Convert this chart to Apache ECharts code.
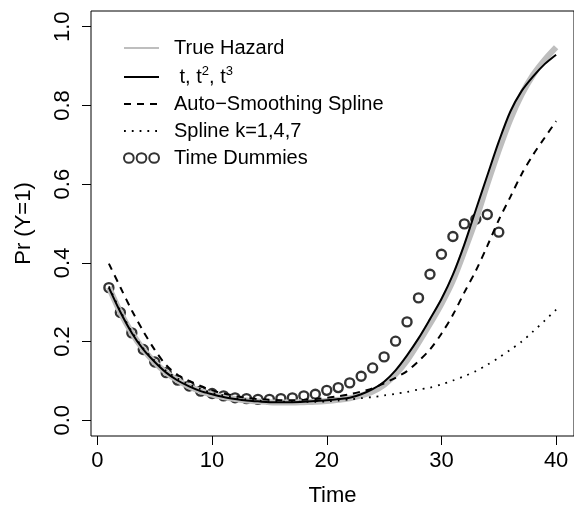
<!DOCTYPE html>
<html>
<head>
<meta charset="utf-8">
<script src="https://cdn.jsdelivr.net/npm/echarts@6/dist/echarts.min.js"></script>
<style>
    html, body { margin: 0; padding: 0; background: #fff; }
    #chart { width: 574px; height: 512px; }
</style>
</head>
<body>
<div id="chart"></div>
<script>
    // time points and curves
    const timePoints = [1, 2, 3, 4, 5, 6, 7, 8, 9, 10, 11, 12, 13, 14, 15, 16, 17, 18, 19, 20,
        21, 22, 23, 24, 25, 26, 27, 28, 29, 30, 31, 32, 33, 34, 35, 36, 37, 38, 39, 40];
    const dummyTimes = [1, 2, 3, 4, 5, 6, 7, 8, 9, 10, 11, 12, 13, 14, 15, 16, 17, 18, 19, 20,
        21, 22, 23, 24, 25, 26, 27, 28, 29, 30, 31, 32, 33, 34, 35];

    const trueHazard = [0.338, 0.274, 0.222, 0.180, 0.147, 0.121, 0.101, 0.086, 0.074, 0.065,
        0.059, 0.054, 0.050, 0.048, 0.046, 0.045, 0.045, 0.046, 0.047, 0.049,
        0.052, 0.056, 0.063, 0.073, 0.090, 0.117, 0.152, 0.197, 0.245, 0.296,
        0.355, 0.430, 0.510, 0.600, 0.686, 0.764, 0.828, 0.878, 0.916, 0.948];
    const cubicFit = [0.337, 0.275, 0.222, 0.180, 0.148, 0.121, 0.101, 0.086, 0.074, 0.066,
        0.059, 0.054, 0.050, 0.048, 0.046, 0.046, 0.046, 0.047, 0.049, 0.051,
        0.054, 0.057, 0.066, 0.079, 0.098, 0.127, 0.165, 0.208, 0.257, 0.308,
        0.370, 0.447, 0.535, 0.622, 0.708, 0.784, 0.837, 0.874, 0.905, 0.929];
    const autoSpline = [0.398, 0.338, 0.279, 0.226, 0.179, 0.140, 0.115, 0.100, 0.087, 0.076,
        0.068, 0.062, 0.057, 0.054, 0.052, 0.051, 0.051, 0.052, 0.054, 0.057,
        0.061, 0.066, 0.073, 0.081, 0.094, 0.108, 0.125, 0.150, 0.180, 0.220,
        0.268, 0.325, 0.380, 0.443, 0.509, 0.567, 0.626, 0.675, 0.718, 0.760];
    const splineK = [0.340, 0.278, 0.225, 0.183, 0.151, 0.125, 0.106, 0.091, 0.079, 0.070,
        0.063, 0.057, 0.053, 0.050, 0.048, 0.047, 0.047, 0.047, 0.047, 0.048,
        0.050, 0.053, 0.056, 0.059, 0.063, 0.067, 0.072, 0.078, 0.083, 0.091,
        0.101, 0.112, 0.125, 0.141, 0.159, 0.179, 0.200, 0.226, 0.253, 0.281];
    const timeDummies = [0.337, 0.274, 0.222, 0.180, 0.148, 0.121, 0.102, 0.087, 0.074, 0.068,
        0.062, 0.057, 0.055, 0.053, 0.053, 0.055, 0.057, 0.062, 0.066, 0.076,
        0.083, 0.095, 0.112, 0.133, 0.161, 0.201, 0.250, 0.311, 0.371, 0.422,
        0.467, 0.499, 0.511, 0.523, 0.478];

    const xTicks = [0, 10, 20, 30, 40];
    const yTicks = [0, 0.2, 0.4, 0.6, 0.8, 1.0];

    const font = '"Liberation Sans", Arial, sans-serif';

    function pairs(xs, ys) {
        return xs.map((x, i) => [x, ys[i]]);
    }

    // line series: itemStyle transparent so the legend shows only the line sample
    function lineSeries(name, values, lineStyle) {
        return {
            name: name,
            type: 'line',
            data: pairs(timePoints, values),
            symbol: 'none',
            smooth: 0.3,
            lineStyle: lineStyle,
            itemStyle: { color: 'transparent', borderWidth: 0 }
        };
    }

    let myChart = echarts.init(document.getElementById('chart'), null, { renderer: 'canvas' });
    myChart.setOption({
        animation: false,
        backgroundColor: '#fff',
        grid: {
            left: 91,
            right: -1,
            top: 11,
            bottom: 75,
            show: true,
            borderColor: '#000',
            borderWidth: 1,
            backgroundColor: 'transparent'
        },
        legend: {
            orient: 'vertical',
            left: 123,
            top: 38,
            padding: 0,
            itemWidth: 35,
            itemHeight: 14,
            itemGap: 7,
            selectedMode: false,
            textStyle: {
                fontFamily: font,
                fontSize: 20,
                lineHeight: 20,
                color: '#000',
                padding: [0, 0, 0, 10],
                rich: {
                    a: { fontFamily: font, fontSize: 20, color: '#000', lineHeight: 20, verticalAlign: 'bottom' },
                    s: { fontFamily: font, fontSize: 13, color: '#000', lineHeight: 13, verticalAlign: 'bottom', padding: [0, 0, 9, 0] }
                }
            },
            formatter: function (name) {
                if (name === 't, t2, t3') {
                    return '{a| t, t}{s|2}{a|, t}{s|3}';
                }
                return name;
            },
            data: [
                'True Hazard',
                't, t2, t3',
                'Auto\u2212Smoothing Spline',
                'Spline k=1,4,7',
                {
                    name: 'Time Dummies',
                    icon: 'path://M0,5a5,5 0 1,0 10,0a5,5 0 1,0 -10,0M13,5a5,5 0 1,0 10,0a5,5 0 1,0 -10,0M26,5a5,5 0 1,0 10,0a5,5 0 1,0 -10,0'
                }
            ]
        },
        xAxis: {
            type: 'value',
            min: -0.56,
            max: 41.56,
            name: 'Time',
            nameLocation: 'middle',
            nameGap: 49,
            nameTextStyle: { fontFamily: font, fontSize: 22, color: '#000' },
            splitLine: { show: false },
            axisLine: { show: false, onZero: false },
            axisTick: {
                show: true,
                length: 9,
                customValues: xTicks,
                lineStyle: { color: '#000', width: 1 }
            },
            axisLabel: {
                customValues: xTicks,
                margin: 14,
                fontFamily: font,
                fontSize: 22,
                color: '#000'
            }
        },
        yAxis: {
            type: 'value',
            min: -0.04,
            max: 1.04,
            name: 'Pr (Y=1)',
            nameLocation: 'middle',
            nameGap: 56,
            nameTextStyle: { fontFamily: font, fontSize: 22, color: '#000' },
            splitLine: { show: false },
            axisLine: { show: false, onZero: false },
            axisTick: {
                show: true,
                length: 9,
                customValues: yTicks,
                lineStyle: { color: '#000', width: 1 }
            },
            axisLabel: {
                customValues: yTicks,
                rotate: 90,
                margin: 17,
                fontFamily: font,
                fontSize: 22,
                color: '#000',
                formatter: function (v) { return v.toFixed(1); }
            }
        },
        series: [
            lineSeries('True Hazard', trueHazard, { color: '#bebebe', width: 6 }),
            lineSeries('Auto\u2212Smoothing Spline', autoSpline, { color: '#000', width: 2, type: [7, 6] }),
            lineSeries('Spline k=1,4,7', splineK, { color: '#000', width: 1.8, type: [1.8, 6], cap: 'butt' }),
            lineSeries('t, t2, t3', cubicFit, { color: '#000', width: 2 }),
            {
                name: 'Time Dummies',
                type: 'scatter',
                data: pairs(dummyTimes, timeDummies),
                symbol: 'circle',
                symbolSize: 9,
                itemStyle: { color: 'transparent', borderColor: '#000', borderWidth: 2.4 }
            }
        ]
    });
</script>
</body>
</html>
